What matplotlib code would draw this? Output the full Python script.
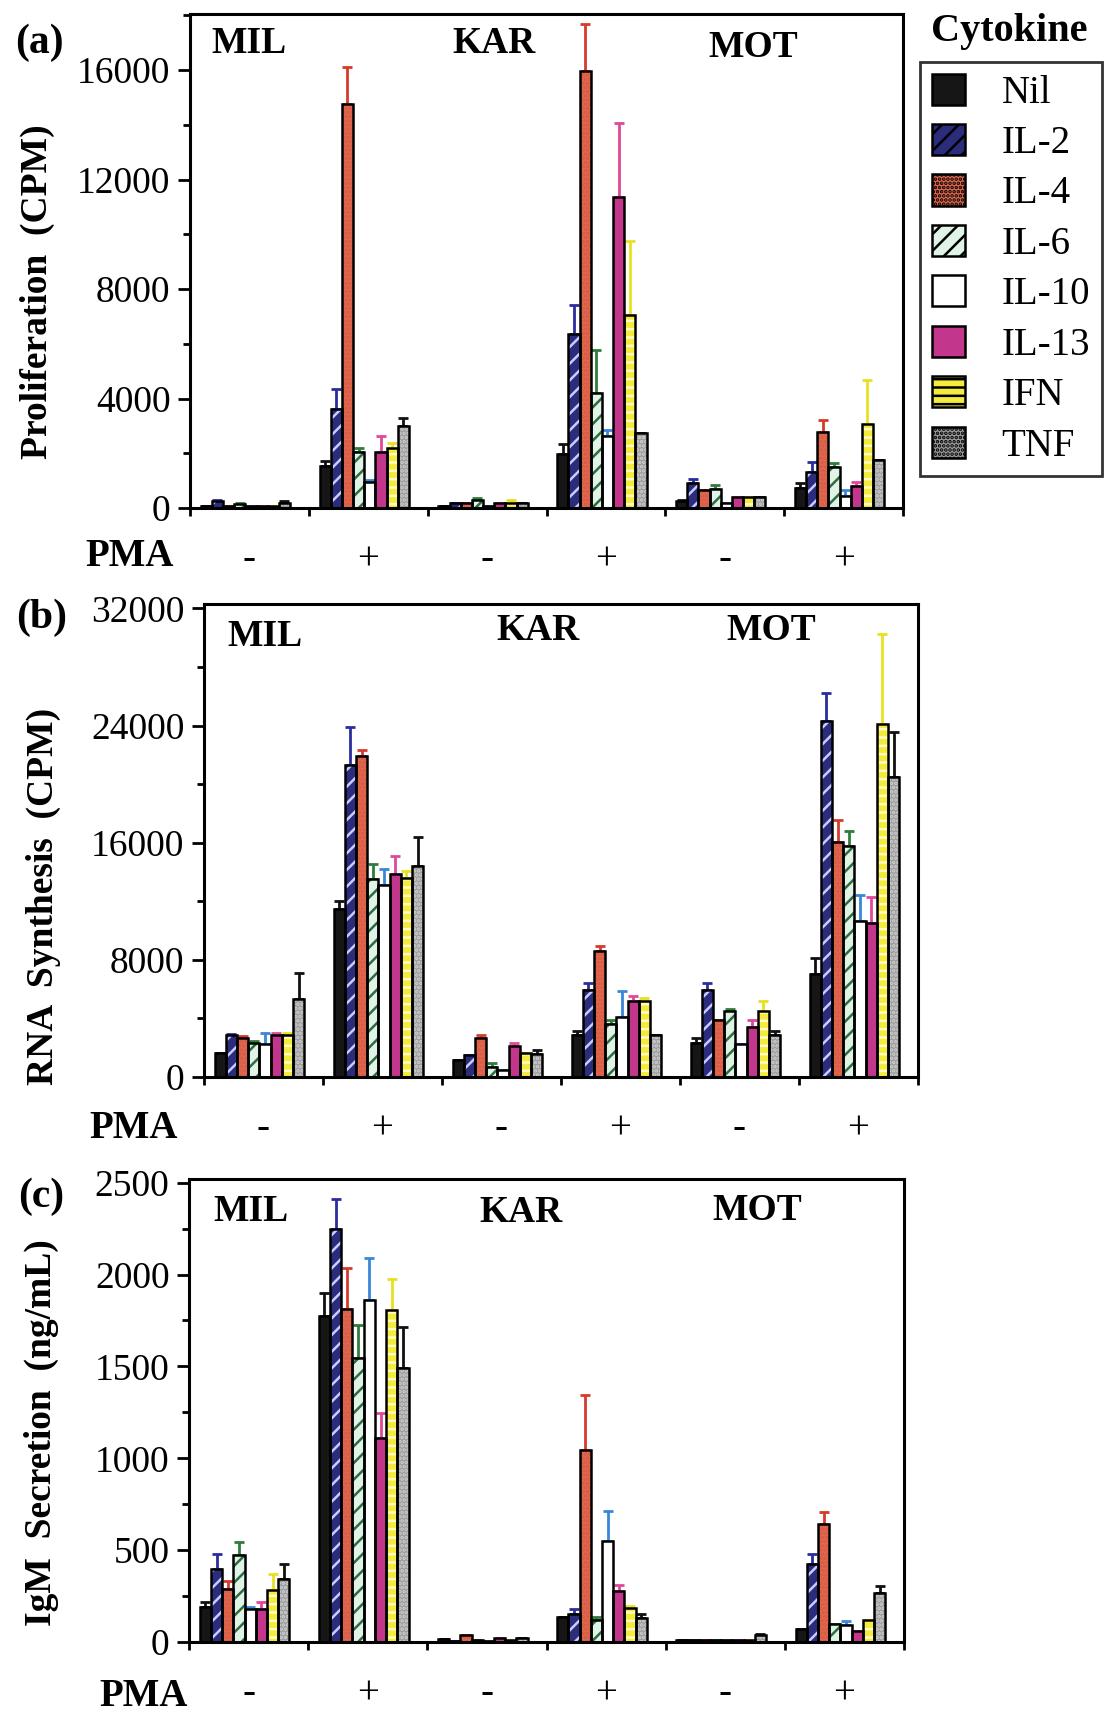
import numpy as np
import matplotlib
matplotlib.use("Agg")
import matplotlib.pyplot as plt
import matplotlib.transforms as mtransforms
from matplotlib.patches import Patch

plt.rcParams["font.family"] = ["Liberation Serif", "DejaVu Serif"]
plt.rcParams["hatch.linewidth"] = 1.8

W, H = 1115, 1713

# ---- data ----
cytokines = ["Nil", "IL-2", "IL-4", "IL-6", "IL-10", "IL-13", "IFN", "TNF"]
pma_labels = ["-", "+", "-", "+", "-", "+"]
donors = ["MIL", "KAR", "MOT"]

# rows: MIL-, MIL+, KAR-, KAR+, MOT-, MOT+ ; columns follow `cytokines`
prolif_mean = [
    [80, 250, 90, 150, 70, 80, 90, 200],
    [1530, 3600, 14750, 2030, 960, 2030, 2210, 3000],
    [80, 180, 180, 310, 80, 180, 180, 180],
    [1980, 6350, 15970, 4200, 2620, 11360, 7050, 2750],
    [270, 920, 650, 680, 180, 400, 400, 400],
    [720, 1300, 2790, 1490, 450, 810, 3060, 1740],
]
prolif_err = [
    [0, 30, 0, 20, 0, 0, 0, 70],
    [170, 750, 1350, 150, 70, 590, 180, 300],
    [0, 0, 0, 70, 0, 0, 100, 0],
    [370, 1080, 1730, 1560, 230, 2710, 2710, 0],
    [40, 140, 0, 170, 0, 0, 0, 0],
    [180, 370, 440, 150, 200, 150, 1630, 0],
]

rna_mean = [
    [1620, 2840, 2670, 2350, 2250, 2840, 2840, 5330],
    [11500, 21330, 21890, 13500, 13090, 13870, 13600, 14420],
    [1140, 1500, 2670, 650, 480, 2110, 1620, 1580],
    [2840, 5940, 8600, 3640, 4070, 5160, 5160, 2840],
    [2350, 5940, 3880, 4530, 2250, 3390, 4530, 2900],
    [7030, 24300, 16070, 15760, 10670, 10500, 24120, 20480],
]
rna_err = [
    [0, 100, 100, 100, 780, 190, 190, 1750],
    [500, 2600, 410, 1050, 1090, 1210, 500, 1940],
    [0, 0, 230, 320, 0, 240, 0, 290],
    [310, 480, 320, 240, 1820, 340, 240, 0],
    [320, 480, 0, 100, 0, 490, 630, 250],
    [1090, 1950, 1460, 1040, 1770, 1790, 6110, 3110],
]

igm_mean = [
    [192, 398, 290, 471, 181, 181, 283, 344],
    [1773, 2250, 1815, 1546, 1860, 1110, 1806, 1494],
    [19, 8, 37, 10, 4, 23, 10, 23],
    [138, 152, 1046, 119, 552, 277, 187, 129],
    [13, 13, 13, 13, 13, 13, 13, 37],
    [71, 423, 642, 96, 90, 58, 119, 269],
]
igm_err = [
    [27, 83, 40, 71, 11, 34, 86, 83],
    [125, 162, 218, 179, 230, 134, 169, 221],
    [0, 0, 0, 0, 0, 0, 0, 0],
    [0, 29, 300, 19, 163, 34, 9, 25],
    [0, 0, 0, 0, 0, 0, 0, 5],
    [0, 58, 64, 0, 23, 0, 0, 37],
]

# ---- styles ----
face = ["#161616", "#2b2d7c", "#e2694f", "#dff3e6", "#ffffff", "#c2368c", "#f4ec3c", "#9c9c9c"]
hatch_col = ["#161616", "#c8ccff", "#d45a44", "#2e6b40", "#ffffff", "#c2368c", "#fffac8", "#d0d0d0"]
hatches = [None, "//", "....", "//", None, None, "--", "...."]
err_col = ["#111111", "#2b2d9c", "#d63a2a", "#2e7d3a", "#3a86d8", "#e0489a", "#e8e020", "#111111"]

bar_w = 0.094
bar_start = 0.09

fig = plt.figure(figsize=(W / 100, H / 100), dpi=100)


def fx(x):
    return x / W


def fy(y):
    return 1 - y / H


def panel(rect, mean, err, ylim, major, minor, ylabel, ylab_pos, tag, tag_pos,
          pma_pos, donor_pos):
    left, top, right, bottom = rect
    ax = fig.add_axes([fx(left), fy(bottom), fx(right - left), (bottom - top) / H])
    mean = np.array(mean, dtype=float)
    err = np.array(err, dtype=float)
    groups = np.arange(len(pma_labels))
    for j in range(len(cytokines)):
        x = groups + bar_start + bar_w * (j + 0.5)
        ax.bar(x, mean[:, j], width=bar_w, color=face[j], edgecolor=hatch_col[j],
               hatch=hatches[j], linewidth=0, zorder=2)
        ax.bar(x, mean[:, j], width=bar_w, fill=False, edgecolor="black",
               linewidth=1.8, zorder=3)
        ax.errorbar(x, mean[:, j], yerr=[np.zeros(len(groups)), err[:, j]],
                    fmt="none", ecolor=err_col[j], elinewidth=2, capsize=3.5,
                    capthick=2, zorder=1)
    ax.set_xlim(0, len(pma_labels))
    ax.set_ylim(0, ylim)
    ax.set_yticks(major)
    ax.set_yticks(minor, minor=True)
    ax.set_yticklabels([str(v) for v in major], fontsize=27)
    ax.set_xticks(groups.tolist() + [len(pma_labels)])
    ax.set_xticklabels([])
    ax.set_xticks(groups + 0.5, minor=True)
    ax.set_xticklabels(pma_labels, minor=True, fontsize=28)
    ax.tick_params(axis="x", which="major", direction="out", length=6, width=2)
    ax.tick_params(axis="x", which="minor", length=0, pad=24)
    ax.tick_params(axis="y", which="major", direction="out", length=9, width=2, pad=5)
    ax.tick_params(axis="y", which="minor", direction="out", length=5, width=2)
    for s in ax.spines.values():
        s.set_linewidth(2.2)
    trans = mtransforms.blended_transform_factory(ax.transData, ax.transAxes)
    for name, (dx, dy) in zip(donors, donor_pos):
        ax.text(dx, dy, name, transform=trans, fontsize=27, fontweight="bold",
                ha="center", va="center")
    fig.text(fx(ylab_pos[0]), fy(ylab_pos[1]), ylabel, rotation=90, fontsize=27,
             fontweight="bold", ha="center", va="center")
    fig.text(fx(tag_pos[0]), fy(tag_pos[1]), tag, fontsize=30, fontweight="bold",
             ha="center", va="center")
    fig.text(fx(pma_pos[0]), fy(pma_pos[1]), "PMA", fontsize=28, fontweight="bold",
             ha="center", va="center")
    return ax


panel((190, 14, 903, 508), prolif_mean, prolif_err, 18050,
      [0, 4000, 8000, 12000, 16000], np.arange(0, 18001, 2000),
      "Proliferation  (CPM)", (37, 292), "(a)", (39, 43), (130, 557),
      [(0.5, 0.94), (2.56, 0.94), (4.74, 0.933)])

panel((204, 604, 918, 1077), rna_mean, rna_err, 32300,
      [0, 8000, 16000, 24000, 32000], np.arange(0, 32001, 4000),
      "RNA  Synthesis  (CPM)", (43, 896), "(b)", (42, 618), (134, 1128),
      [(0.51, 0.932), (2.81, 0.943), (4.77, 0.945)])

panel((189, 1179, 904, 1642), igm_mean, igm_err, 2520,
      [0, 500, 1000, 1500, 2000, 2500], np.arange(0, 2501, 250),
      "IgM  Secretion  (ng/mL)", (41, 1433), "(c)", (41, 1197), (144, 1697),
      [(0.52, 0.929), (2.79, 0.927), (4.77, 0.933)])

# legend
handles = [Patch(facecolor=face[j], edgecolor="black", hatch=hatches[j], linewidth=1.8)
           for j in range(len(cytokines))]
leg = fig.legend(handles, cytokines, loc="upper left", bbox_to_anchor=(fx(920), fy(62)),
                 borderaxespad=0, fontsize=28, frameon=True, fancybox=False,
                 edgecolor="black", handlelength=0.85, handleheight=0.85,
                 handletextpad=0.95, labelspacing=0.32, borderpad=0.3)
leg.get_frame().set_linewidth(2)
fig.text(fx(1009), fy(31), "Cytokine", fontsize=29, fontweight="bold",
         ha="center", va="center")

fig.savefig("out.png", dpi=100)
